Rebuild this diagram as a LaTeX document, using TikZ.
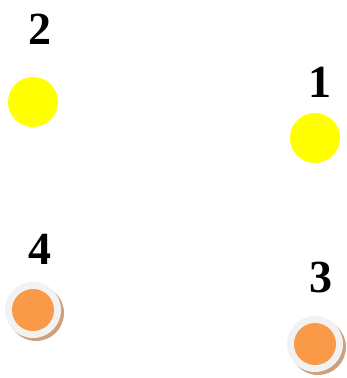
\documentclass[tikz,border=0pt]{standalone}
\usepackage{fontspec}
\setmainfont{Liberation Serif}
\begin{document}
\begin{tikzpicture}[x=1pt,y=-1pt,
  lbl/.style={font=\fontsize{46}{46}\selectfont\bfseries, inner sep=0pt, anchor=center},
  sun/.style={circle, fill=sunyellow, minimum size=50pt, inner sep=0pt},
  ring/.style={circle, fill=ringgray, minimum size=56pt, inner sep=0pt},
  core/.style={circle, fill=coreorange, minimum size=42pt, inner sep=0pt},
  shade/.style={circle, fill=shadetan, minimum size=56pt, inner sep=0pt}]
\definecolor{sunyellow}{HTML}{FFFF00}
\definecolor{ringgray}{HTML}{F2F2F2}
\definecolor{coreorange}{HTML}{F99A48}
\definecolor{shadetan}{HTML}{CFA07E}
\useasboundingbox (0,0) rectangle (346,378);
\node[sun] (c2) at (33,102) {};
\node[sun] (c1) at (315,138) {};
\node[shade] (s4) at (36,313) {};
\node[ring] (r4) at (33,310) {};
\node[core] (c4) at (r4.center) {};
\node[shade] (s3) at (318,347) {};
\node[ring] (r3) at (315,344) {};
\node[core] (c3) at (r3.center) {};
\node[lbl] (l2) at (39.5,29.5) {2};
\node[lbl] (l1) at (320,82.5) {1};
\node[lbl] (l4) at (39.5,249) {4};
\node[lbl] (l3) at (321,277.5) {3};
\end{tikzpicture}
\end{document}
